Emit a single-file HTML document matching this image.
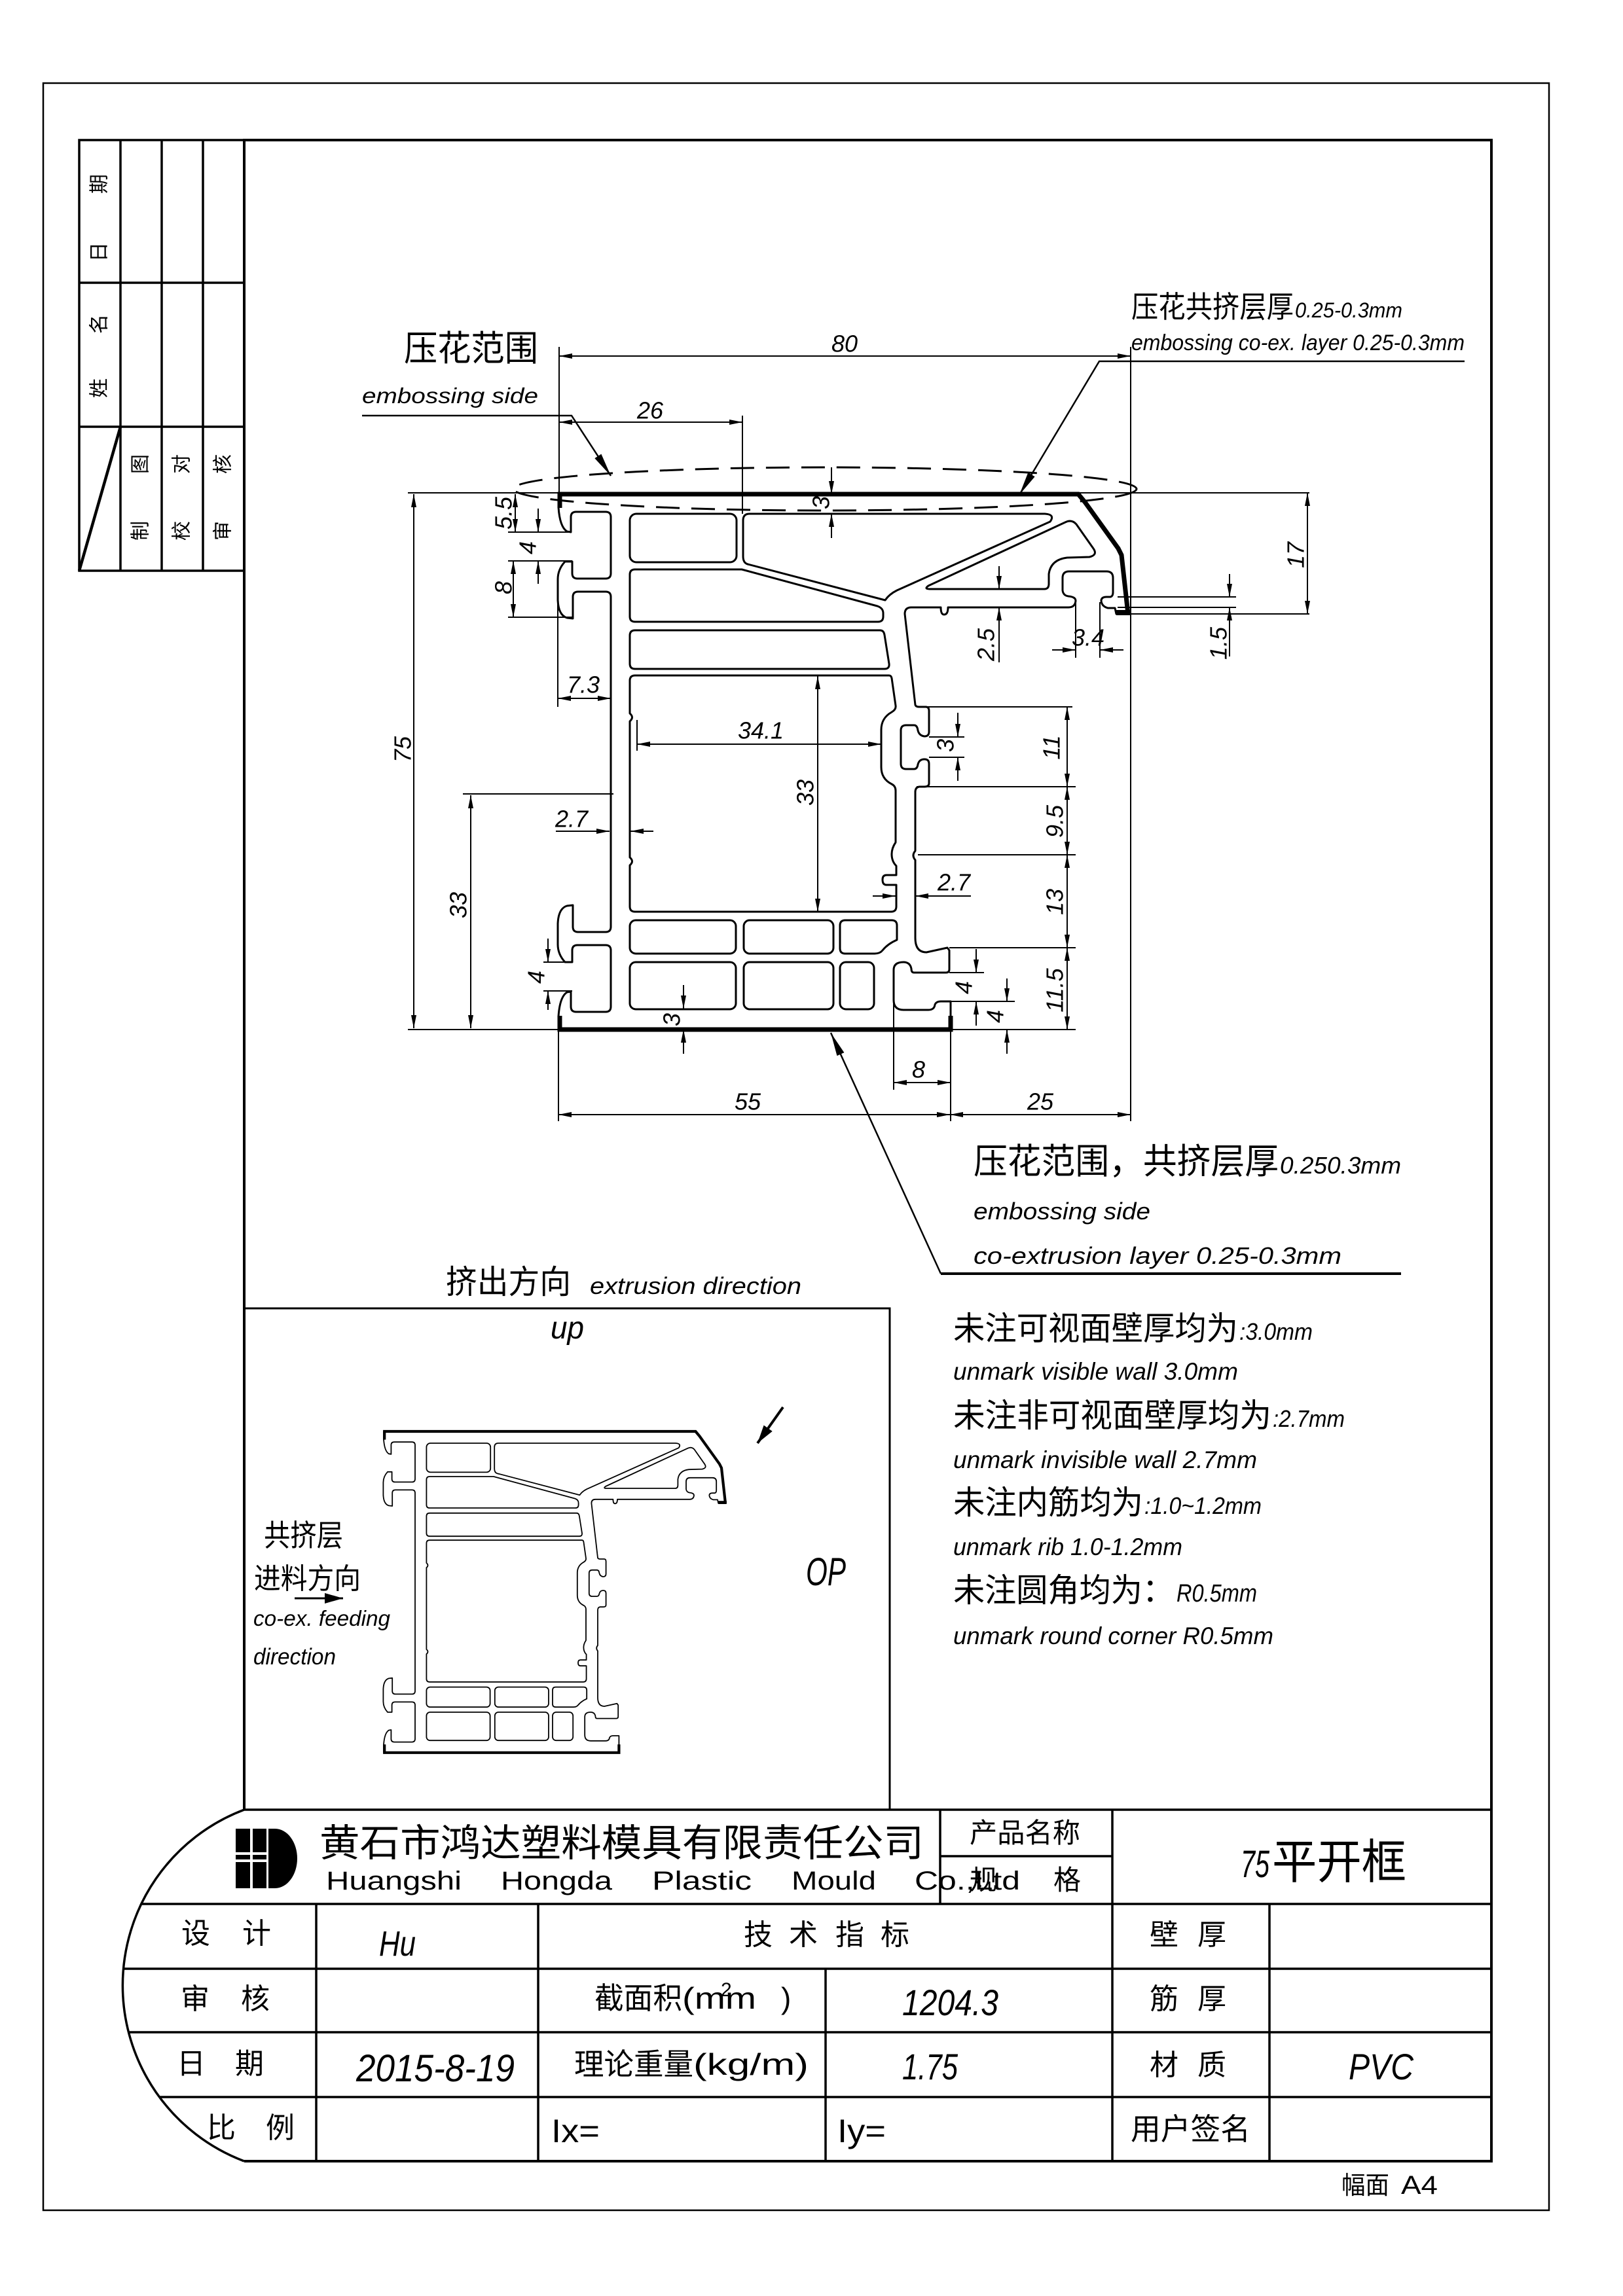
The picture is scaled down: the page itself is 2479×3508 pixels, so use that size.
<!DOCTYPE html>
<html><head><meta charset="utf-8">
<style>
html,body{margin:0;padding:0;background:#fff;}
svg{display:block;}
text{font-family:"Liberation Sans","Noto Sans CJK SC",sans-serif;fill:#000;stroke:none;}
.i{font-style:italic;}
.d{font-style:italic;font-size:36px;}
</style></head><body>
<svg width="2479" height="3508" viewBox="0 0 2479 3508" xmlns="http://www.w3.org/2000/svg">
<defs>
<marker id="a" viewBox="0 0 20 8" refX="20" refY="4" markerWidth="20" markerHeight="8" markerUnits="userSpaceOnUse" orient="auto-start-reverse"><path d="M0,0L20,4L0,8Z" fill="#000" stroke="none"/></marker>
<marker id="L" viewBox="0 0 36 12" refX="36" refY="6" markerWidth="36" markerHeight="12" markerUnits="userSpaceOnUse" orient="auto"><path d="M0,0L36,6L0,12Z" fill="#000" stroke="none"/></marker>
<marker id="B" viewBox="0 0 28 16" refX="28" refY="8" markerWidth="28" markerHeight="16" markerUnits="userSpaceOnUse" orient="auto"><path d="M0,0L28,8L0,16Z" fill="#000" stroke="none"/></marker>
<g id="prof" fill="none" stroke="#000" stroke-width="3" stroke-linejoin="round">
<path d="M853,755 L1647,755 L1657,767 L1708,838 L1713,848 L1723,938 L1705,938 L1703,929 L1692,929 Q1682,926 1682,917 Q1683,912 1690,912 L1696,912 Q1700,911 1700,905 L1700,883 Q1700,873 1690,873 L1633,873 Q1623,873 1623,883 L1623,902 Q1624,910 1632,911 Q1643,912 1643,918 Q1642,928 1632,928 L1448,928 Q1448,939 1442,939 Q1437,939 1437,928 L1392,928 Q1382,928 1382,938 L1398,1077 Q1399,1080 1404,1080 L1414,1080 Q1419,1080 1419,1086 L1419,1118 Q1419,1125 1412,1125 Q1404,1124 1402,1116 Q1401,1108 1396,1108 L1384,1108 Q1376,1108 1376,1116 L1376,1167 Q1376,1175 1384,1175 L1396,1175 Q1401,1175 1402,1168 Q1404,1160 1412,1160 Q1419,1160 1419,1167 L1419,1197 Q1419,1202 1412,1202 L1404,1202 Q1398,1203 1398,1210 L1398,1300 Q1392,1307 1398,1314 L1398,1433 Q1398,1455 1415,1455 L1447,1448 L1450,1452 L1450,1481 Q1450,1486 1445,1486 L1396,1486 Q1392,1486 1392,1480 Q1390,1470 1380,1470 Q1365,1470 1365,1482 L1365,1528 Q1365,1543 1380,1543 L1418,1543 Q1427,1543 1428,1535 Q1430,1530 1437,1530 L1452,1530 L1452,1573 L853,1573"/>
<path d="M853,755 L853,775 Q855,805 866,812 L872,813 L872,790 Q872,782 880,782 L925,782 Q933,782 933,790 L933,876 Q933,884 925,884 L882,884 Q874,884 874,876 L874,858 L863,858 Q852,870 852,885 L852,917 Q853,940 866,944 L875,945 L875,912 Q875,904 883,904 L925,904 Q933,904 933,912 L933,1416 Q933,1424 925,1424 L883,1424 Q875,1424 875,1416 L875,1383 L866,1384 Q853,1388 852,1411 L852,1443 Q852,1458 863,1470 L874,1470 L874,1452 Q874,1444 882,1444 L925,1444 Q933,1444 933,1452 L933,1538 Q933,1546 925,1546 L880,1546 Q872,1546 872,1538 L872,1515 L866,1516 Q855,1523 853,1553 L853,1573"/>
<rect x="962" y="785" width="163" height="74" rx="10"/>
<path d="M1145,785 L1596,785 Q1612,786 1604,797 L1370,902 Q1358,908 1352,917 L1142,862 Q1135,860 1135,850 L1135,795 Q1135,785 1145,785 Z"/>
<path d="M970,870 L1133,870 L1340,926 Q1349,929 1349,937 L1349,942 Q1349,950 1341,950 L970,950 Q962,950 962,942 L962,878 Q962,870 970,870 Z"/>
<path d="M1420,900 L1595,900 Q1602,900 1602,892 L1602,877 Q1605,855 1630,852 L1664,851 Q1677,848 1670,838 L1644,801 Q1637,793 1627,798 L1418,895 Q1411,900 1420,900 Z"/>
<path d="M970,963 L1344,963 Q1350,963 1351,970 L1358,1014 Q1359,1022 1351,1022 L970,1022 Q962,1022 962,1014 L962,971 Q962,963 970,963 Z"/>
<path d="M970,1032 L1358,1032 Q1361,1032 1362,1036 L1368,1078 Q1369,1084 1362,1088 Q1346,1097 1346,1115 L1346,1172 Q1346,1190 1362,1198 Q1368,1201 1368,1208 L1368,1287 Q1362,1296 1362,1305 Q1362,1316 1369,1323 L1369,1337 L1354,1337 Q1348,1337 1348,1344 Q1348,1352 1354,1352 L1369,1352 L1369,1385 Q1369,1393 1361,1393 L970,1393 Q962,1393 962,1385 L962,1322 Q969,1316 962,1310 L962,1102 Q969,1096 962,1090 L962,1040 Q962,1032 970,1032 Z"/>
<rect x="962" y="1406" width="162" height="51" rx="9"/>
<rect x="1136" y="1406" width="137" height="51" rx="9"/>
<path d="M1291,1406 L1362,1406 Q1370,1406 1370,1414 L1370,1436 Q1356,1442 1348,1452 Q1344,1457 1336,1457 L1291,1457 Q1283,1457 1283,1449 L1283,1414 Q1283,1406 1291,1406 Z"/>
<rect x="962" y="1470" width="162" height="72" rx="9"/>
<rect x="1136" y="1470" width="137" height="72" rx="9"/>
<rect x="1283" y="1470" width="52" height="72" rx="9"/>
<path d="M855,776 L855,755 L1647,755 L1657,767 L1708,838 L1713,848 L1723,938" stroke-width="7" stroke-linejoin="miter"/>
<path d="M855,1552 L855,1573 L1452,1573 L1452,1552" stroke-width="7" stroke-linejoin="miter"/>
<rect x="1705" y="932" width="21" height="8" fill="#000" stroke="none"/>
</g>
</defs>

<rect x="0" y="0" width="2479" height="3508" fill="#fff"/>

<!-- frames -->
<g fill="none" stroke="#000">
<rect x="66" y="127" width="2300" height="3250" stroke-width="2.5"/>
<path d="M373,2765 V214 H2278 V3302 H373" stroke-width="4"/>
<path d="M373,214 H121 V872 H373 M121,432 H373 M121,652 H373 M184,214 V872 M247,214 V872 M310,214 V872" stroke-width="3.5"/>
<path d="M121,872 L184,652" stroke-width="4.5"/>
<!-- title block -->
<path d="M373,2765 H2278 M373,2765 A287,287 0 0 0 373,3302 M216,2909 H2278 M189,3008 H2278 M197,3105 H2278 M244,3204 H2278 M483,2909 V3302 M822,2909 V3302 M1261,3008 V3302 M1436,2765 V2909 M1699,2765 V3302 M1939,2909 V3302 M1436,2836 H1699" stroke-width="3.5"/>
<!-- lower-left box -->
<path d="M373,1999 H1359 V2765" stroke-width="3"/>
</g>

<!-- side table text -->
<g font-size="30" text-anchor="middle" dominant-baseline="central">
<text transform="translate(152,385) rotate(-90)">日</text>
<text transform="translate(152,281) rotate(-90)">期</text>
<text transform="translate(152,593) rotate(-90)">姓</text>
<text transform="translate(152,495) rotate(-90)">名</text>
<text transform="translate(215,811) rotate(-90)">制</text>
<text transform="translate(215,709) rotate(-90)">图</text>
<text transform="translate(278,811) rotate(-90)">校</text>
<text transform="translate(278,709) rotate(-90)">对</text>
<text transform="translate(341,811) rotate(-90)">审</text>
<text transform="translate(341,709) rotate(-90)">核</text>
</g>

<!-- main profile -->
<use href="#prof"/>

<!-- embossing ellipse -->
<ellipse cx="1260" cy="747" rx="476" ry="33" fill="none" stroke="#000" stroke-width="3" stroke-dasharray="36 18"/>

<!-- extension lines -->
<g fill="none" stroke="#000" stroke-width="2">
<path d="M623,753 H2000 M623,1573 H1643 M707,1213 H937 M776,813 H872 M776,857 H874 M776,943 H875 M852,917 V1080 M973,1100 V1147 M830,1470 H874 M830,1514 H874 M854,530 V755 M1727,530 V1713 M1134,635 V785 M1727,938 H2000 M1707,912 H1888 M1707,928 H1888 M1643,920 V1005 M1680,920 V1005 M1419,1126 H1473 M1419,1157 H1473 M1404,1080 H1638 M1400,1202 H1643 M1402,1306 H1643 M1450,1448 H1643 M1450,1486 H1503 M1452,1530 H1550 M1365,1532 V1665 M853,1573 V1713 M1452,1573 V1713"/>
</g>

<!-- dimension lines with arrows -->
<g fill="none" stroke="#000" stroke-width="2">
<path d="M632,755 V1571" marker-start="url(#a)" marker-end="url(#a)"/>
<path d="M719,1215 V1571" marker-start="url(#a)" marker-end="url(#a)"/>
<path d="M787,755 V813" marker-start="url(#a)" marker-end="url(#a)"/>
<path d="M822,777 V813" marker-end="url(#a)"/>
<path d="M822,892 V857" marker-end="url(#a)"/>
<path d="M784,857 V943" marker-start="url(#a)" marker-end="url(#a)"/>
<path d="M852,1067 H933" marker-start="url(#a)" marker-end="url(#a)"/>
<path d="M849,1270 H931" marker-end="url(#a)"/>
<path d="M998,1270 H963" marker-end="url(#a)"/>
<path d="M973,1137 H1346" marker-start="url(#a)" marker-end="url(#a)"/>
<path d="M1249,1033 V1393" marker-start="url(#a)" marker-end="url(#a)"/>
<path d="M837,1434 V1470" marker-end="url(#a)"/>
<path d="M837,1543 V1514" marker-end="url(#a)"/>
<path d="M1044,1505 V1541" marker-end="url(#a)"/>
<path d="M1044,1610 V1573" marker-end="url(#a)"/>
<path d="M1270,714 V755" marker-end="url(#a)"/>
<path d="M1270,822 V785" marker-end="url(#a)"/>
<path d="M854,645 H1134" marker-start="url(#a)" marker-end="url(#a)"/>
<path d="M854,544 H1727" marker-start="url(#a)" marker-end="url(#a)"/>
<path d="M1997,753 V938" marker-start="url(#a)" marker-end="url(#a)"/>
<path d="M1878,877 V912" marker-end="url(#a)"/>
<path d="M1878,1003 V928" marker-end="url(#a)"/>
<path d="M1526,865 V900" marker-end="url(#a)"/>
<path d="M1526,1012 V928" marker-end="url(#a)"/>
<path d="M1607,993 H1643" marker-end="url(#a)"/>
<path d="M1716,993 H1680" marker-end="url(#a)"/>
<path d="M1463,1089 V1126" marker-end="url(#a)"/>
<path d="M1463,1193 V1157" marker-end="url(#a)"/>
<path d="M1630,1080 V1202" marker-start="url(#a)" marker-end="url(#a)"/>
<path d="M1630,1202 V1306" marker-start="url(#a)" marker-end="url(#a)"/>
<path d="M1630,1306 V1448" marker-start="url(#a)" marker-end="url(#a)"/>
<path d="M1630,1448 V1573" marker-start="url(#a)" marker-end="url(#a)"/>
<path d="M1333,1369 H1368" marker-end="url(#a)"/>
<path d="M1483,1369 H1398" marker-end="url(#a)"/>
<path d="M1491,1450 V1486" marker-end="url(#a)"/>
<path d="M1491,1567 V1530" marker-end="url(#a)"/>
<path d="M1538,1495 V1530" marker-end="url(#a)"/>
<path d="M1538,1610 V1573" marker-end="url(#a)"/>
<path d="M1365,1654 H1452" marker-start="url(#a)" marker-end="url(#a)"/>
<path d="M853,1703 H1451" marker-start="url(#a)" marker-end="url(#a)"/>
<path d="M1451,1703 H1727" marker-start="url(#a)" marker-end="url(#a)"/>
</g>

<!-- leaders -->
<g fill="none" stroke="#000" stroke-width="2.5">
<path d="M553,635 H873 L933,727" marker-end="url(#L)"/>
<path d="M2237,552 H1679 L1557,756" marker-end="url(#L)"/>
<path d="M1437,1946 L1269,1578" marker-end="url(#L)"/>
<path d="M2140,1946 H1437" stroke-width="4"/>
</g>

<!-- dimension texts -->
<g class="d" text-anchor="middle" dominant-baseline="central">
<text x="1290" y="525">80</text>
<text x="993" y="627">26</text>
<text transform="translate(615,1145) rotate(-90)">75</text>
<text transform="translate(700,1383) rotate(-90)">33</text>
<text transform="translate(769,784) rotate(-90)">5.5</text>
<text transform="translate(806,837) rotate(-90)">4</text>
<text transform="translate(769,898) rotate(-90)">8</text>
<text x="891" y="1046">7.3</text>
<text x="873" y="1251">2.7</text>
<text x="1162" y="1116">34.1</text>
<text transform="translate(1230,1211) rotate(-90)">33</text>
<text transform="translate(819,1493) rotate(-90)">4</text>
<text transform="translate(1026,1558) rotate(-90)">3</text>
<text transform="translate(1254,768) rotate(-90)">3</text>
<text transform="translate(1979,848) rotate(-90)">17</text>
<text transform="translate(1861,983) rotate(-90)">1.5</text>
<text transform="translate(1506,985) rotate(-90)">2.5</text>
<text x="1662" y="974">3.4</text>
<text transform="translate(1444,1139) rotate(-90)">3</text>
<text transform="translate(1606,1142) rotate(-90)">11</text>
<text transform="translate(1611,1255) rotate(-90)">9.5</text>
<text transform="translate(1611,1378) rotate(-90)">13</text>
<text transform="translate(1611,1513) rotate(-90)">11.5</text>
<text x="1457" y="1348">2.7</text>
<text transform="translate(1472,1509) rotate(-90)">4</text>
<text transform="translate(1520,1553) rotate(-90)">4</text>
<text x="1403" y="1634">8</text>
<text x="1142" y="1683">55</text>
<text x="1589" y="1683">25</text>
</g>

<!-- labels -->
<text x="617" y="551" font-size="54" textLength="205" lengthAdjust="spacingAndGlyphs">压花范围</text>
<text class="i" x="553" y="616" font-size="33" textLength="269" lengthAdjust="spacingAndGlyphs">embossing side</text>
<text x="1728" y="485" font-size="46" textLength="248" lengthAdjust="spacingAndGlyphs">压花共挤层厚</text>
<text class="i" x="1978" y="485" font-size="32" textLength="164" lengthAdjust="spacingAndGlyphs">0.25-0.3mm</text>
<text class="i" x="1728" y="535" font-size="34" textLength="509" lengthAdjust="spacingAndGlyphs">embossing co-ex. layer 0.25-0.3mm</text>

<text x="1487" y="1793" font-size="54" textLength="466" lengthAdjust="spacingAndGlyphs">压花范围，共挤层厚</text>
<text class="i" x="1955" y="1793" font-size="36" textLength="185" lengthAdjust="spacingAndGlyphs">0.250.3mm</text>
<text class="i" x="1487" y="1863" font-size="36" textLength="270" lengthAdjust="spacingAndGlyphs">embossing side</text>
<text class="i" x="1487" y="1931" font-size="36" textLength="562" lengthAdjust="spacingAndGlyphs">co-extrusion layer 0.25-0.3mm</text>

<text x="681" y="1976" font-size="50" textLength="191" lengthAdjust="spacingAndGlyphs">挤出方向</text>
<text class="i" x="901" y="1977" font-size="36" textLength="323" lengthAdjust="spacingAndGlyphs">extrusion direction</text>

<!-- notes -->
<text x="1456" y="2047" font-size="50" textLength="435" lengthAdjust="spacingAndGlyphs">未注可视面壁厚均为</text>
<text class="i" x="1893" y="2047" font-size="36" textLength="112" lengthAdjust="spacingAndGlyphs">:3.0mm</text>
<text class="i" x="1456" y="2108" font-size="37" textLength="435" lengthAdjust="spacingAndGlyphs">unmark visible wall 3.0mm</text>
<text x="1456" y="2180" font-size="50" textLength="486" lengthAdjust="spacingAndGlyphs">未注非可视面壁厚均为</text>
<text class="i" x="1944" y="2180" font-size="36" textLength="110" lengthAdjust="spacingAndGlyphs">:2.7mm</text>
<text class="i" x="1456" y="2243" font-size="37" textLength="464" lengthAdjust="spacingAndGlyphs">unmark invisible wall 2.7mm</text>
<text x="1456" y="2313" font-size="50" textLength="290" lengthAdjust="spacingAndGlyphs">未注内筋均为</text>
<text class="i" x="1748" y="2313" font-size="36" textLength="179" lengthAdjust="spacingAndGlyphs">:1.0~1.2mm</text>
<text class="i" x="1456" y="2376" font-size="37" textLength="350" lengthAdjust="spacingAndGlyphs">unmark rib 1.0-1.2mm</text>
<text x="1456" y="2447" font-size="50" textLength="337" lengthAdjust="spacingAndGlyphs">未注圆角均为：</text>
<text class="i" x="1797" y="2447" font-size="38" textLength="123" lengthAdjust="spacingAndGlyphs">R0.5mm</text>
<text class="i" x="1456" y="2512" font-size="37" textLength="489" lengthAdjust="spacingAndGlyphs">unmark round corner R0.5mm</text>

<!-- lower-left box contents -->
<use href="#prof" transform="translate(586,2187) scale(0.6) translate(-853,-755)"/>
<path d="M1196,2150 L1157,2205" stroke="#000" stroke-width="4" fill="none" marker-end="url(#B)"/>
<text class="i" x="841" y="2045" font-size="48" textLength="51" lengthAdjust="spacingAndGlyphs">up</text>
<text class="i" x="1231" y="2422" font-size="60" textLength="61" lengthAdjust="spacingAndGlyphs">OP</text>
<text x="403" y="2362" font-size="46" textLength="121" lengthAdjust="spacingAndGlyphs">共挤层</text>
<text x="388" y="2427" font-size="44" textLength="163" lengthAdjust="spacingAndGlyphs">进料方向</text>
<path d="M450,2442 H524" stroke="#000" stroke-width="3" fill="none" marker-end="url(#B)"/>
<text class="i" x="387" y="2484" font-size="33" textLength="209" lengthAdjust="spacingAndGlyphs">co-ex. feeding</text>
<text class="i" x="387" y="2543" font-size="35" textLength="126" lengthAdjust="spacingAndGlyphs">direction</text>

<!-- title block -->
<g fill="#000">
<rect x="360" y="2794" width="22" height="91"/>
<rect x="386" y="2794" width="21" height="91"/>
<path d="M410,2794 H420 A34,45.5 0 0 1 420,2885 H410 Z"/>
</g>
<rect x="356" y="2830" width="54" height="4" fill="#fff"/>
<rect x="356" y="2841" width="54" height="4" fill="#fff"/>
<text x="488" y="2836" font-size="58" textLength="923" lengthAdjust="spacingAndGlyphs">黄石市鸿达塑料模具有限责任公司</text>
<g font-size="40">
<text x="498" y="2887" textLength="207" lengthAdjust="spacingAndGlyphs">Huangshi</text>
<text x="765" y="2887" textLength="170" lengthAdjust="spacingAndGlyphs">Hongda</text>
<text x="996" y="2887" textLength="152" lengthAdjust="spacingAndGlyphs">Plastic</text>
<text x="1209" y="2887" textLength="129" lengthAdjust="spacingAndGlyphs">Mould</text>
<text x="1397" y="2887" textLength="161" lengthAdjust="spacingAndGlyphs">Co.,Ltd</text>
</g>
<text x="1481" y="2815" font-size="42" textLength="169" lengthAdjust="spacingAndGlyphs">产品名称</text>
<text x="1481" y="2887" font-size="42">规</text>
<text x="1609" y="2887" font-size="42">格</text>
<text class="i" x="1895" y="2868" font-size="58" textLength="44" lengthAdjust="spacingAndGlyphs">75</text>
<text x="1943" y="2870" font-size="72" textLength="205" lengthAdjust="spacingAndGlyphs">平开框</text>

<g font-size="44">
<text x="277" y="2969">设</text><text x="370" y="2969">计</text>
<text x="1136" y="2971">技</text><text x="1205" y="2971">术</text><text x="1276" y="2971">指</text><text x="1345" y="2971">标</text>
<text x="1756" y="2971">壁</text><text x="1829" y="2971">厚</text>
<text x="276" y="3069">审</text><text x="368" y="3069">核</text>
<text x="1756" y="3069">筋</text><text x="1829" y="3069">厚</text>
<text x="270" y="3168">日</text><text x="359" y="3168">期</text>
<text x="1756" y="3170">材</text><text x="1829" y="3170">质</text>
<text x="316" y="3266">比</text><text x="406" y="3266">例</text>
</g>
<text class="i" x="579" y="2988" font-size="54" textLength="56" lengthAdjust="spacingAndGlyphs">Hu</text>
<text x="908" y="3069" font-size="46" textLength="134" lengthAdjust="spacingAndGlyphs">截面积</text>
<text x="1042" y="3069" font-size="46" textLength="113" lengthAdjust="spacingAndGlyphs">(mm</text>
<text x="1101" y="3050" font-size="30">2</text>
<text x="1193" y="3069" font-size="46">)</text>
<text class="i" x="1378" y="3079" font-size="56" textLength="147" lengthAdjust="spacingAndGlyphs">1204.3</text>
<text class="i" x="544" y="3180" font-size="58" textLength="242" lengthAdjust="spacingAndGlyphs">2015-8-19</text>
<text x="877" y="3170" font-size="46" textLength="182" lengthAdjust="spacingAndGlyphs">理论重量</text>
<text x="1059" y="3170" font-size="46" textLength="176" lengthAdjust="spacingAndGlyphs">(kg/m)</text>
<text class="i" x="1378" y="3177" font-size="56" textLength="85" lengthAdjust="spacingAndGlyphs">1.75</text>
<text x="842" y="3273" font-size="50" textLength="74" lengthAdjust="spacingAndGlyphs">Ix=</text>
<text x="1279" y="3273" font-size="50" textLength="74" lengthAdjust="spacingAndGlyphs">Iy=</text>
<text class="i" x="2060" y="3177" font-size="56" textLength="99" lengthAdjust="spacingAndGlyphs">PVC</text>
<text x="1727" y="3269" font-size="46" textLength="183" lengthAdjust="spacingAndGlyphs">用户签名</text>
<text x="2049" y="3352" font-size="38" textLength="73" lengthAdjust="spacingAndGlyphs">幅面</text>
<text x="2140" y="3352" font-size="40" textLength="56" lengthAdjust="spacingAndGlyphs">A4</text>
</svg>
</body></html>
